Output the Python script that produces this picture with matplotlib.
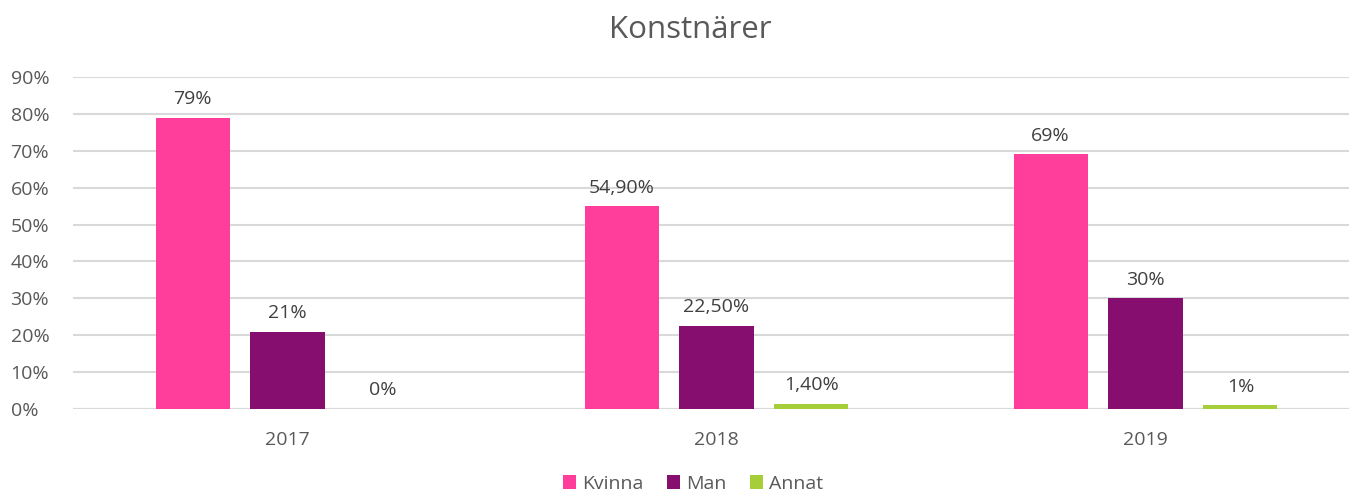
import numpy as np
import matplotlib.pyplot as plt

plt.rcParams['font.family'] = ['Open Sans', 'DejaVu Sans']

years = ['2017', '2018', '2019']
kvinna = [0.79, 0.549, 0.69]
man = [0.21, 0.225, 0.30]
annat = [0.0, 0.014, 0.01]
lab_kvinna = ['79%', '54,90%', '69%']
lab_man = ['21%', '22,50%', '30%']
lab_annat = ['0%', '1,40%', '1%']

series = [('Kvinna', kvinna, lab_kvinna, '#FF3D9A'),
          ('Man', man, lab_man, '#850E6E'),
          ('Annat', annat, lab_annat, '#A6CE39')]

fig = plt.figure(figsize=(13.49, 4.94), dpi=100)
ax = fig.add_axes([73/1349, 1-409/494, 1-73/1349, (409-77)/494])

x = np.arange(len(years))
w = 0.1725
step = 0.2214
for i, (name, vals, labs, col) in enumerate(series):
    xs = x + (i-1)*step
    bars = ax.bar(xs, vals, w, color=col, label=name, zorder=3)
    for b, v, t in zip(bars, vals, labs):
        ax.annotate(t, (b.get_x()+b.get_width()/2, v), xytext=(0, 7),
                    textcoords='offset points', ha='center', va='bottom',
                    fontsize=14, color='#404040')

ax.set_xlim(-0.5, (1349-73)/429 - 0.5)
ax.set_ylim(0, 0.9)
ax.set_yticks(np.arange(0, 0.91, 0.1))
ax.set_yticklabels([f'{int(round(v*100))}%' for v in np.arange(0, 0.91, 0.1)])
ax.set_xticks(x)
ax.set_xticklabels(years)
ax.tick_params(axis='both', length=0, labelsize=14, labelcolor='#595959')
ax.tick_params(axis='x', pad=16)
for lbl in ax.get_yticklabels():
    lbl.set_horizontalalignment('left')
ax.yaxis.set_tick_params(pad=45)
ax.grid(axis='y', color='#D9D9D9', lw=1.5, zorder=0)
for s in ax.spines.values():
    s.set_visible(False)
ax.axhline(0, color='#D9D9D9', lw=1.5, zorder=2)

fig.text(690/1349, 1-30/494, 'Konstnärer', ha='center', va='center',
         fontsize=22.5, color='#595959')
fig.legend(loc='center', bbox_to_anchor=(693/1349, 1-484/494), ncol=3,
           frameon=False, fontsize=14, handlelength=0.7, handleheight=0.7,
           handletextpad=0.3, columnspacing=1.2, labelcolor='#595959')

plt.savefig('out.png', dpi=100)
